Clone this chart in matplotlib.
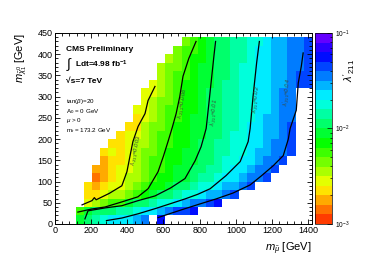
import numpy as np
import matplotlib
matplotlib.use('Agg')
import matplotlib.pyplot as plt
from matplotlib.colors import ListedColormap, LogNorm, hsv_to_rgb
from matplotlib.ticker import MultipleLocator, LogLocator, LogFormatterMathtext, NullFormatter

plt.rcParams['font.family'] = ['Liberation Sans', 'DejaVu Sans']
plt.rcParams['mathtext.fontset'] = 'custom'
plt.rcParams['mathtext.rm'] = 'Liberation Sans'
plt.rcParams['mathtext.it'] = 'Liberation Sans:italic'
plt.rcParams['mathtext.bf'] = 'Liberation Sans:bold'

# ---- data -------------------------------------------------------------
x_edges = np.arange(115, 1421, 45)   # smuon mass bins [GeV]
y_edges = np.arange(0, 441, 20)      # neutralino mass bins [GeV]

# colour level of each cell (0..19 -> '0'-'9','a'-'j'), '.' = empty; top row first
level_rows = [
    ".............6789aabbccdeeffg",
    "............67789aabbcddeeffg",
    "...........567889aabbcddeeffg",
    "..........5667899aabccddeeffg",
    "..........5677899aabccddeefgg",
    ".........45678899abbccddeefgg",
    "........44567889aabbccddeff..",
    "........45667889aabbccddeff..",
    ".......445677889aabbccddeff..",
    ".......345677899aabbccdeeff..",
    "......3356678899aabbcddeefg..",
    ".....34456778899aabccddeefg..",
    "....33455677889aabbccddeffg..",
    "...343456678899aabbccdeeffg..",
    "...233456778899aabccddeffg...",
    "..223445677899aabbcddeffg....",
    "..123455678899abbcddeffg.....",
    ".32344567889aabccdeefg.......",
    ".334556789aabccdeefg.........",
    ".456779aabccdeffgh...........",
    "79aaabbcddefggh..............",
    "9abcdddef.h..................",
]

# contour lines (smuon mass, neutralino mass)
contour_labels = ["0.003", "0.006", "0.01", "0.02", "0.04"]
c1_x = [150, 205, 218, 228, 300, 370, 398, 415, 431, 460, 498, 515, 553]
c1_y = [45, 55, 62, 57, 72, 90, 123, 160, 194, 230, 260, 291, 324]
c2_x = [127, 200, 277, 370, 459, 515, 570, 600, 625, 647, 670, 690, 708, 740, 780]
c2_y = [28, 35, 40, 52, 64, 83, 123, 160, 194, 225, 260, 300, 348, 390, 430]
c3_x = [166, 183, 280, 370, 460, 553, 640, 719, 775, 808, 836, 850, 865, 880, 888]
c3_y = [12, 31, 38, 43, 55, 66, 85, 107, 149, 182, 225, 280, 340, 400, 430]
c4_x = [285, 370, 460, 553, 640, 719, 790, 858, 946, 1024, 1068, 1079, 1095, 1115, 1130]
c4_y = [8, 14, 24, 36, 48, 59, 70, 83, 114, 147, 194, 225, 300, 380, 430]
c5_x = [570, 640, 719, 800, 891, 985, 1079, 1140, 1206, 1262, 1290, 1300, 1334, 1345, 1362, 1372]
c5_y = [15, 25, 36, 47, 59, 73, 92, 113, 137, 161, 200, 225, 268, 332, 372, 403]
label_x = [448, 708, 884, 1114, 1284]
label_y = [172, 284, 263, 294, 310]
label_rot = [78, 80, 84, 84, 84]

# ---- build histogram --------------------------------------------------
digits = "0123456789abcdefghij"
nrow = len(y_edges) - 1
ncol = len(x_edges) - 1
Z = np.full((nrow, ncol), np.nan)
for r, row in enumerate(level_rows):
    iy = nrow - 1 - r
    for j, ch in enumerate(row[:ncol]):
        if ch != '.':
            k = digits.index(ch)
            Z[iy, j] = 10 ** (-3 + 0.1 * (k + 0.5))
Z = np.ma.masked_invalid(Z)

ncol_pal = 20
pal = [hsv_to_rgb((0.02 + 0.73 * (k + 0.5) / ncol_pal, 1.0, 1.0)) for k in range(ncol_pal)]
cmap = ListedColormap(pal)
cmap.set_bad('white')
norm = LogNorm(vmin=1e-3, vmax=1e-1)

fig = plt.figure(figsize=(3.66, 2.66), dpi=100)
ax = fig.add_axes([0.150, 0.158, 0.702, 0.718])
mesh = ax.pcolormesh(x_edges, y_edges, Z, cmap=cmap, norm=norm, shading='flat')

for cx, cy in [(c1_x, c1_y), (c2_x, c2_y), (c3_x, c3_y), (c4_x, c4_y), (c5_x, c5_y)]:
    ax.plot(cx, cy, color='black', lw=0.9)

for lab, lx, ly, rot in zip(contour_labels, label_x, label_y, label_rot):
    ax.text(lx, ly, r"$\lambda'_{211}$=" + lab, rotation=rot, fontsize=4.2,
            color='#3a4a3a', ha='center', va='center', style='italic')

ax.set_xlim(0, 1420)
ax.set_ylim(0, 450)
ax.xaxis.set_major_locator(MultipleLocator(200))
ax.xaxis.set_minor_locator(MultipleLocator(40))
ax.yaxis.set_major_locator(MultipleLocator(50))
ax.yaxis.set_minor_locator(MultipleLocator(10))
ax.tick_params(which='both', direction='in', top=True, right=True, labelsize=6.5,
               width=0.6, pad=1.5)
ax.tick_params(which='major', length=3.8)
ax.tick_params(which='minor', length=1.9)
for s in ax.spines.values():
    s.set_linewidth(0.7)

ax.set_xlabel(r"$m_{\tilde{\mu}}$ [GeV]", fontsize=8, loc='right', labelpad=4)
ax.set_ylabel(r"$m_{\tilde{\chi}^{0}_{1}}$ [GeV]", fontsize=8, loc='top', labelpad=6)

# annotations
ax.text(0.045, 0.915, "CMS Preliminary", transform=ax.transAxes, fontsize=6,
        fontweight='bold', va='center', ha='left')
ax.text(0.042, 0.835, r"$\int$", transform=ax.transAxes, fontsize=10,
        va='center', ha='left')
ax.text(0.078, 0.835, r"Ldt=4.98 fb$^{\mathbf{-1}}$", transform=ax.transAxes, fontsize=6,
        fontweight='bold', va='center', ha='left')
ax.text(0.045, 0.745, "\u221as=7 TeV", transform=ax.transAxes, fontsize=6,
        fontweight='bold', va='center', ha='left')
info = [r"tan($\beta$)=20", r"A$_0$ = 0 GeV", r"$\mu$ > 0", r"m$_t$ = 173.2 GeV"]
for i, t in enumerate(info):
    ax.text(0.045, 0.64 - i * 0.05, t, transform=ax.transAxes, fontsize=4.5,
            va='center', ha='left')

# colour bar
cax = fig.add_axes([0.861, 0.158, 0.046, 0.718])
cb = fig.colorbar(mesh, cax=cax)
cb.outline.set_linewidth(0.5)
cax.yaxis.set_major_locator(LogLocator(base=10, numticks=5))
cax.yaxis.set_major_formatter(LogFormatterMathtext())
cax.yaxis.set_minor_locator(LogLocator(base=10, subs=np.arange(2, 10), numticks=20))
cax.yaxis.set_minor_formatter(NullFormatter())
cax.tick_params(which='both', direction='in', labelsize=4.8, width=0.5, pad=2)
cax.tick_params(which='major', length=3.5)
cax.tick_params(which='minor', length=1.8)
fig.text(0.953, 1 - 70 / 266, r"$\lambda'_{211}$", rotation=90, fontsize=8,
         ha='center', va='center')

fig.savefig('out.png', dpi=100)
